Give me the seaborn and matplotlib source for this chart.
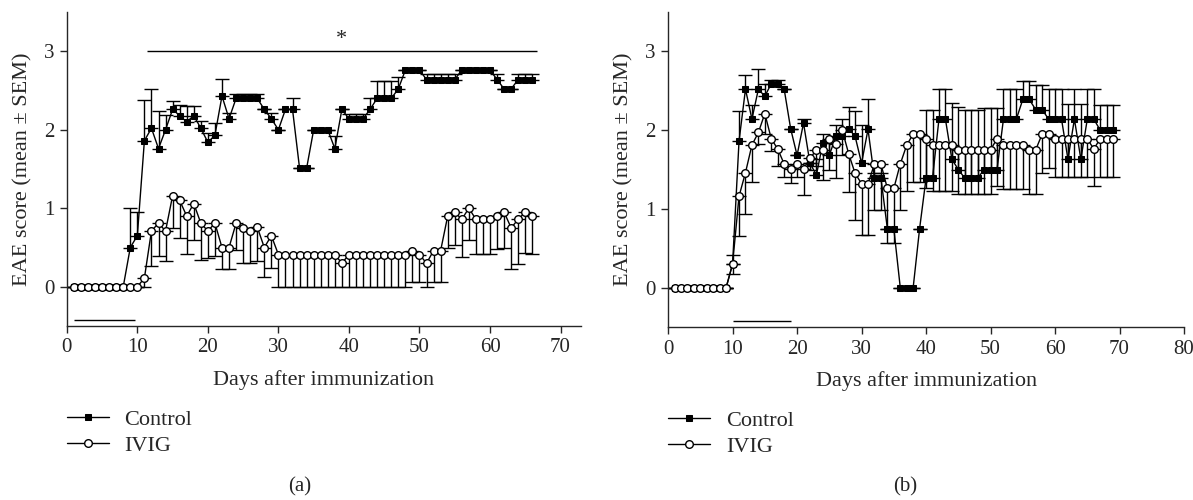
import numpy as np
import pandas as pd
import matplotlib
matplotlib.use("Agg")
import matplotlib.pyplot as plt
import seaborn as sns

# ---- panel (a) data ----
days_a = list(range(1, 67))
ctrl_a = [0, 0, 0, 0, 0, 0, 0, 0, 0.5, 0.65,
          1.86, 2.02, 1.76, 2.0, 2.26, 2.18, 2.1, 2.18, 2.02, 1.84,
          1.93, 2.43, 2.14, 2.4, 2.4, 2.4, 2.4, 2.26, 2.14, 2.0,
          2.26, 2.26, 1.51, 1.51, 2.0, 2.0, 2.0, 1.76, 2.26, 2.14,
          2.14, 2.14, 2.26, 2.4, 2.4, 2.4, 2.52, 2.76, 2.76, 2.76,
          2.64, 2.64, 2.64, 2.64, 2.64, 2.76, 2.76, 2.76, 2.76, 2.76,
          2.64, 2.52, 2.52, 2.64, 2.64, 2.64]
ctrl_a_top = [0, 0, 0, 0, 0, 0, 0, 0, 1.0, 0.95,
              2.38, 2.52, 2.24, 2.19, 2.36, 2.31, 2.3, 2.3, 2.11, 1.96,
              2.09, 2.65, 2.21, 2.46, 2.46, 2.46, 2.46, 2.26, 2.21, 2.0,
              2.26, 2.41, 1.51, 1.51, 2.0, 2.0, 2.0, 1.92, 2.26, 2.2,
              2.2, 2.2, 2.41, 2.62, 2.62, 2.62, 2.67, 2.76, 2.76, 2.76,
              2.71, 2.71, 2.71, 2.71, 2.71, 2.76, 2.76, 2.76, 2.76, 2.76,
              2.71, 2.52, 2.52, 2.71, 2.71, 2.71]
ivig_a = [0, 0, 0, 0, 0, 0, 0, 0, 0, 0,
          0.11, 0.71, 0.81, 0.71, 1.16, 1.1, 0.9, 1.06, 0.81, 0.71,
          0.81, 0.5, 0.5, 0.81, 0.75, 0.71, 0.76, 0.5, 0.65, 0.41,
          0.41, 0.41, 0.41, 0.41, 0.41, 0.41, 0.41, 0.41, 0.3, 0.41,
          0.41, 0.41, 0.41, 0.41, 0.41, 0.41, 0.41, 0.41, 0.46, 0.41,
          0.3, 0.46, 0.46, 0.9, 0.95, 0.86, 1.0, 0.86, 0.86, 0.86,
          0.9, 0.95, 0.75, 0.86, 0.95, 0.9]
ivig_a_low = [0, 0, 0, 0, 0, 0, 0, 0, 0, 0,
              0, 0.26, 0.39, 0.33, 0.75, 0.62, 0.42, 0.6, 0.34, 0.36,
              0.39, 0.23, 0.22, 0.47, 0.3, 0.3, 0.33, 0.12, 0.24, 0,
              0, 0, 0, 0, 0, 0, 0, 0, 0, 0,
              0, 0, 0, 0, 0, 0, 0, 0, 0.06, 0.06,
              0, 0.06, 0.06, 0.5, 0.53, 0.38, 0.59, 0.42, 0.42, 0.42,
              0.48, 0.5, 0.23, 0.29, 0.43, 0.42]

# ---- panel (b) data ----
days_b = list(range(1, 70))
ctrl_b = [0, 0, 0, 0, 0, 0, 0, 0, 0, 0.3,
          1.86, 2.52, 2.14, 2.52, 2.43, 2.59, 2.59, 2.52, 2.02, 1.68,
          2.09, 1.58, 1.43, 1.84, 1.68, 1.92, 1.92, 2.02, 1.92, 1.58,
          2.01, 1.39, 1.39, 0.75, 0.75, 0, 0, 0, 0.75, 1.39,
          1.39, 2.14, 2.14, 1.63, 1.5, 1.39, 1.39, 1.39, 1.5, 1.5,
          1.5, 2.14, 2.14, 2.14, 2.39, 2.39, 2.26, 2.26, 2.14, 2.14,
          2.14, 1.63, 2.14, 1.63, 2.14, 2.14, 2.0, 2.0, 2.0]
ctrl_b_top = [0, 0, 0, 0, 0, 0, 0, 0, 0, 0.41,
              2.24, 2.7, 2.32, 2.78, 2.58, 2.64, 2.64, 2.52, 2.02, 1.68,
              2.14, 1.58, 1.63, 1.95, 1.84, 2.07, 2.14, 2.3, 2.24, 2.07,
              2.39, 1.46, 1.46, 0.75, 0.75, 0, 0, 0, 0.75, 2.25,
              2.25, 2.52, 2.52, 2.34, 2.3, 2.25, 2.25, 2.25, 2.28, 2.28,
              2.28, 2.52, 2.52, 2.52, 2.62, 2.62, 2.57, 2.57, 2.52, 2.52,
              2.52, 2.33, 2.52, 2.33, 2.52, 2.52, 2.32, 2.32, 2.32]
ivig_b = [0, 0, 0, 0, 0, 0, 0, 0, 0, 0.3,
          1.16, 1.46, 1.81, 1.97, 2.21, 1.89, 1.76, 1.57, 1.51, 1.57,
          1.51, 1.64, 1.75, 1.75, 1.89, 1.82, 2.0, 1.7, 1.45, 1.32,
          1.32, 1.57, 1.57, 1.26, 1.26, 1.57, 1.81, 1.95, 1.95, 1.89,
          1.81, 1.81, 1.81, 1.81, 1.75, 1.75, 1.75, 1.75, 1.75, 1.75,
          1.89, 1.81, 1.81, 1.81, 1.81, 1.75, 1.75, 1.95, 1.95, 1.89,
          1.89, 1.89, 1.89, 1.89, 1.89, 1.76, 1.89, 1.89, 1.89]
ivig_b_low = [0, 0, 0, 0, 0, 0, 0, 0, 0, 0.17,
              0.65, 0.94, 1.34, 1.83, 1.95, 1.74, 1.55, 1.41, 1.33, 1.41,
              1.18, 1.5, 1.54, 1.37, 1.5, 1.39, 1.69, 1.21, 0.86, 0.67,
              0.67, 0.99, 0.99, 0.57, 0.57, 0.99, 1.23, 1.34, 1.34, 1.27,
              1.23, 1.23, 1.23, 1.23, 1.19, 1.19, 1.19, 1.19, 1.19, 1.19,
              1.29, 1.25, 1.25, 1.25, 1.25, 1.19, 1.19, 1.46, 1.52, 1.41,
              1.41, 1.41, 1.41, 1.41, 1.41, 1.29, 1.41, 1.41, 1.41]

# treatment periods / significance span (x ranges in days)
treat_a = (1, 9.7)
treat_b = (10, 19)
signif_a = (11.3, 66.7)

sns.set_style("ticks")
plt.rcParams['font.family'] = ['Liberation Serif', 'DejaVu Serif']
plt.rcParams['font.size'] = 14
plt.rcParams['axes.linewidth'] = 1.0

fig = plt.figure(figsize=(11.93, 5.0), dpi=100)
ax_a = fig.add_axes([0.056, 0.348, 0.431, 0.628])
ax_b = fig.add_axes([0.560, 0.346, 0.4325, 0.630])


def draw_panel(ax, days, ctrl, ctrl_top, ivig, ivig_low):
    ctrl = np.array(ctrl)
    ivig = np.array(ivig)
    up = np.clip(np.array(ctrl_top) - ctrl, 0, None)
    low = np.clip(ivig - np.array(ivig_low), 0, None)
    df = pd.DataFrame({'day': days, 'Control': ctrl, 'IVIG': ivig})
    ax.errorbar(days, ctrl, yerr=[np.zeros_like(up), up], fmt='none',
                ecolor='k', elinewidth=1.0, capsize=4.8, capthick=1.0, zorder=1)
    ax.errorbar(days, ivig, yerr=[low, np.zeros_like(low)], fmt='none',
                ecolor='k', elinewidth=1.0, capsize=4.8, capthick=1.0, zorder=1)
    sns.lineplot(data=df, x='day', y='Control', ax=ax, color='k', lw=1.0,
                 marker='s', markersize=5, markerfacecolor='k',
                 markeredgecolor='k', label='Control', zorder=3)
    sns.lineplot(data=df, x='day', y='IVIG', ax=ax, color='k', lw=1.0,
                 marker='o', markersize=5.5, markerfacecolor='white',
                 markeredgecolor='k', markeredgewidth=1.0, label='IVIG', zorder=4)
    ax.set_ylim(-0.5, 3.5)
    ax.set_yticks([0, 1, 2, 3])
    ax.set_xlabel('Days after immunization', fontsize=16, labelpad=9)
    ax.set_ylabel('EAE score (mean ± SEM)', fontsize=16, labelpad=8)
    ax.tick_params(direction='out', length=5, width=1.0, labelsize=15, pad=4)
    sns.despine(ax=ax)
    leg = ax.legend(loc='upper left', bbox_to_anchor=(0.0, -0.265),
                    frameon=False, fontsize=16, handlelength=1.9,
                    handletextpad=0.7, labelspacing=0.25,
                    borderpad=0, borderaxespad=0)
    return leg


draw_panel(ax_a, days_a, ctrl_a, ctrl_a_top, ivig_a, ivig_a_low)
ax_a.set_xlim(0, 72.9)
ax_a.set_xticks(range(0, 71, 10))
ax_a.hlines(3, signif_a[0], signif_a[1], color='k', lw=1.0)
ax_a.text(np.mean(signif_a), 3.03, '*', ha='center', va='bottom', fontsize=16)
ax_a.hlines(-0.42, treat_a[0], treat_a[1], color='k', lw=1.0)

draw_panel(ax_b, days_b, ctrl_b, ctrl_b_top, ivig_b, ivig_b_low)
ax_b.set_xlim(0, 80)
ax_b.set_xticks(range(0, 81, 10))
ax_b.hlines(-0.42, treat_b[0], treat_b[1], color='k', lw=1.0)

fig.text(0.2515, 0.026, '(a)', ha='center', va='center', fontsize=15)
fig.text(0.7586, 0.026, '(b)', ha='center', va='center', fontsize=15)

fig.savefig('out.png', dpi=100)
